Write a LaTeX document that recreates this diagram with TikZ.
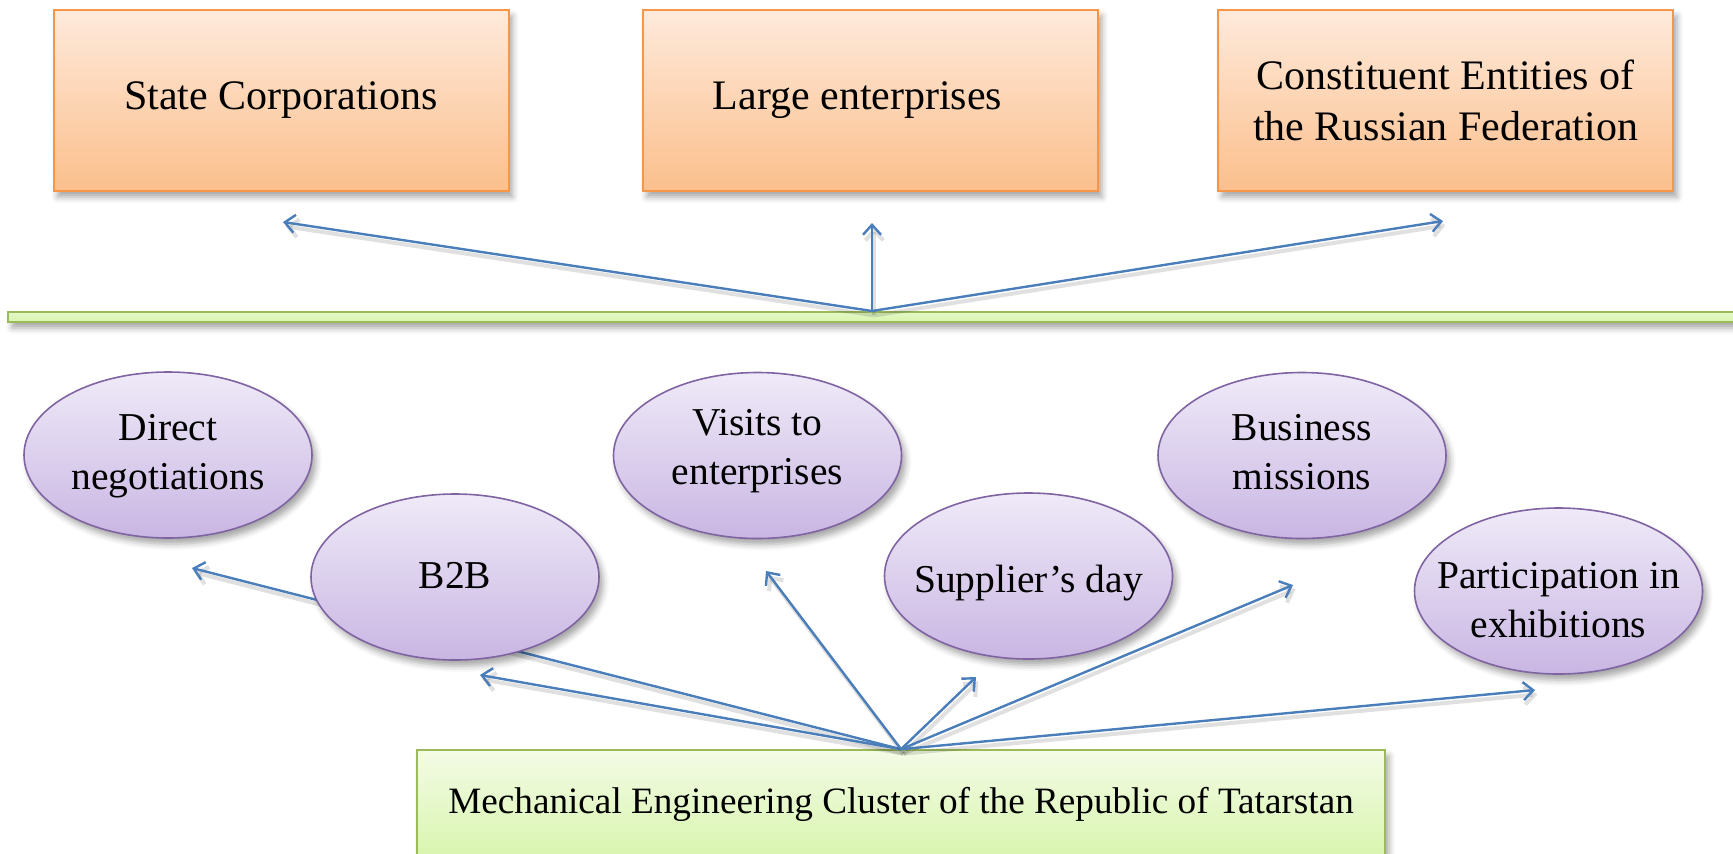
\documentclass[tikz,border=0pt]{standalone}
\usepackage{fontspec}
\setmainfont{Liberation Serif}
\usetikzlibrary{arrows.meta,shapes.geometric,shadows.blur}
\definecolor{arrowblue}{HTML}{4A7EBB}
\definecolor{orborder}{HTML}{F79646}
\definecolor{ortop}{HTML}{FEEADB}
\definecolor{orbot}{HTML}{FBBF8C}
\definecolor{lvborder}{HTML}{8064A2}
\definecolor{lvtop}{HTML}{EFEAF8}
\definecolor{lvbot}{HTML}{C9B6E3}
\definecolor{gnborder}{HTML}{9BBB59}
\definecolor{gntop}{HTML}{F4FBE6}
\definecolor{gnbot}{HTML}{D8F5AE}
\newcommand{\ovtext}[2][0]{\makebox[0pt][c]{\raisebox{#1pt}[0pt][0pt]{\begin{tabular}[t]{@{}c@{}}#2\end{tabular}}}}
\begin{document}
\begin{tikzpicture}[x=0.5pt,y=-0.5pt,
  shad/.style={blur shadow={shadow xshift=2pt,shadow yshift=-3pt,shadow blur radius=3pt,shadow opacity=35}},
  topbox/.style={shad, rectangle, draw=orborder, line width=1pt, top color=ortop, bottom color=orbot,
    minimum width=227.5pt, minimum height=90.5pt, inner sep=0pt, align=center,
    font=\fontsize{21}{25.5}\selectfont},
  oval/.style={shad, ellipse, draw=lvborder, line width=0.8pt, top color=lvtop, bottom color=lvbot,
    minimum width=144pt, minimum height=83pt, inner sep=0pt,
    font=\fontsize{19.75}{24.5}\selectfont},
  barbox/.style={shad, rectangle, draw=gnborder, line width=1pt, top color=gnbot!70!white, bottom color=gnbot,
    minimum width=864pt, minimum height=5pt, inner sep=0pt},
  basebox/.style={shad, rectangle, draw=gnborder, line width=0.8pt, top color=gntop, bottom color=gnbot,
    minimum width=484pt, minimum height=54pt, inner sep=0pt, font=\fontsize{18.6}{22}\selectfont},
  conn/.style={draw=arrowblue, line width=1.2pt, -{Straight Barb[length=5pt,width=9pt]},
    preaction={draw=black, opacity=0.12, line width=2pt, transform canvas={shift={(1.2pt,-2.2pt)}}}}
]
\useasboundingbox (0,0) rectangle (1733,853);
\clip (0,0) rectangle (1733,853);

% top boxes
\node[topbox] (sc) at (281,100.5) {State Corporations};
\node[topbox] (le) at (870.5,100.5) {Large enterprises\hspace{13pt}};
\node[topbox] (ce) at (1445.5,100.5) {Constituent Entities of\\the Russian Federation};

% green bar
\node[barbox] (bar) at (872,317) {};

% bottom box
\node[basebox] (mec) at (901,804) {Mechanical Engineering Cluster of the Republic of Tatarstan};

% arrow ends
\coordinate (t1) at (283,222);
\coordinate (t2) at (872,223);
\coordinate (t3) at (1443,221);
\coordinate (b1) at (192,568);
\coordinate (b2) at (480,675);
\coordinate (b3) at (766,571);
\coordinate (b4) at (976,677);
\coordinate (b5) at (1293,585);
\coordinate (b6) at (1535,690);

\draw[conn] (bar.north) -- (t1);
\draw[conn] (bar.north) -- (t2);
\draw[conn] (bar.north) -- (t3);
\foreach \t in {b1,b2,b3,b4,b5,b6} \draw[conn] (mec.north) -- (\t);

% ellipses
\node[oval] (dn) at (168,455) {\ovtext[7.5]{Direct\\negotiations}};
\node[oval] (bb) at (455,577) {\ovtext[-5.5]{B2B}};
\node[oval] (ve) at (757.5,455.5) {\ovtext[10]{Visits to\\enterprises}};
\node[oval] (sd) at (1028.5,576) {\ovtext[-8]{Supplier’s day}};
\node[oval] (bm) at (1302,455.5) {\ovtext[7.5]{Business\\missions}};
\node[oval] (pe) at (1558.5,591) {\ovtext[1.5]{Participation in\\exhibitions}};
\end{tikzpicture}
\end{document}
